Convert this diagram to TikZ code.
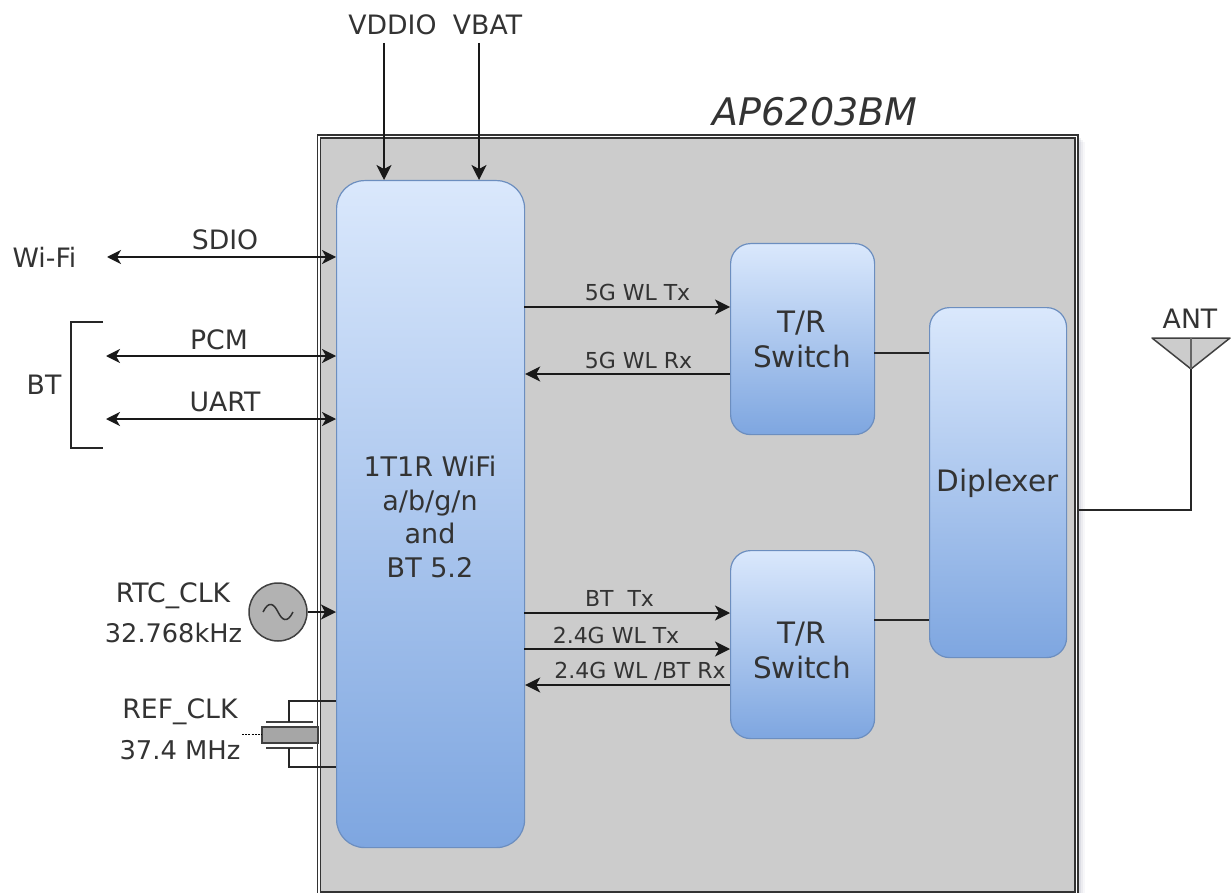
\documentclass[tikz,border=0pt]{standalone}
\usepackage{fontspec}
\setmainfont{DejaVu Sans}
\usetikzlibrary{arrows.meta,calc}
\definecolor{txt}{HTML}{333333}
\definecolor{blockTop}{HTML}{DAE8FC}
\definecolor{blockBot}{HTML}{7EA6E0}
\definecolor{blockEdge}{HTML}{6C8EBF}
\definecolor{panel}{HTML}{CCCCCC}
\definecolor{haze}{HTML}{5A6080}
\tikzset{
 x=1pt,y=-1pt,
 block/.style={draw=blockEdge,line width=1.2pt,top color=blockTop,bottom color=blockBot,rounded corners=#1,inner sep=0pt},
 blocktext/.style={text=txt,font=\fontsize{29.5}{35}\selectfont,align=center,inner sep=0pt,anchor=center},
 sizedat/.style n args={4}{minimum width={(#3-#1)*1pt},minimum height={(#4-#2)*1pt},anchor=north west},
 lab/.style={text=txt,font=\fontsize{26.7}{30}\selectfont,inner sep=0pt,anchor=center},
 small/.style={text=txt,font=\fontsize{22}{24}\selectfont,inner sep=0pt,anchor=center},
 wire/.style={draw=black!90,line width=1.4pt},
 sig/.style={wire,-{Stealth[length=15pt,width=15pt,inset=4pt]}},
 sigboth/.style={wire,{Stealth[length=14pt,width=14pt,inset=4pt]}-{Stealth[length=14pt,width=14pt,inset=4pt]}},
 link/.style={draw=black!85,line width=1.4pt},
 part/.style={draw=black!75,line width=1.5pt},
 frameline/.style={draw=black!80,line width=1.8pt,inner sep=0pt},
}
\begin{document}
\begin{tikzpicture}
\useasboundingbox (0,0) rectangle (1231,893);
\clip (0,0) rectangle (1231,893);
% soft shadow of the shell
\foreach \d/\o in {8/.05,6/.07,4/.10,2/.12}{
  \fill[haze,opacity=\o] (316.5+\d,134+\d) rectangle (1077+\d,896+\d);
}
% shell
\node[frameline,fill=white,sizedat={316.5}{134}{1077}{896}] (shellout) at (316.5,134) {};
\node[frameline,fill=panel,sizedat={319.5}{137}{1074}{891}] (shell) at (319.5,137) {};
\node[lab,font=\fontsize{38}{40}\selectfont\itshape] (title) at (815,112) {AP6203BM};
% blocks
\node[block=28pt,sizedat={336}{180}{524}{847}] (chip) at (336,180) {};
\node[lab,align=center,font=\fontsize{27}{33.5}\selectfont] (chiplabel) at (430,517) {1T1R WiFi\\a/b/g/n\\and\\BT 5.2};
\node[block=20pt,sizedat={730}{243}{874}{434}] (sw1) at (730,243) {};
\node[blocktext] (sw1label) at (802,339) {T/R\\Switch};
\node[block=20pt,sizedat={730}{550}{874}{738}] (sw2) at (730,550) {};
\node[blocktext] (sw2label) at (802,650) {T/R\\Switch};
\node[block=20pt,sizedat={929}{307}{1066}{657}] (dip) at (929,307) {};
\node[blocktext] (diplabel) at (997.5,483) {Diplexer};
% top supplies
\node[lab] (vddio) at (392.5,25) {VDDIO};
\node[lab] (vbat) at (487.5,25) {VBAT};
\coordinate (vddioS) at (384,43);
\coordinate (vbatS) at (479,43);
\draw[sig] (vddioS) -- (vddioS |- chip.north);
\draw[sig] (vbatS) -- (vbatS |- chip.north);
% left interfaces
\node[lab] (wifi) at (44.5,257) {Wi-Fi};
\coordinate (wifiE) at (107,257);
\draw[sigboth] (wifiE) -- (wifiE -| chip.west);
\node[lab] (sdiolab) at (225,240) {SDIO};
\coordinate (pcmE) at (106,356);
\coordinate (uartE) at (106,419);
\draw[sigboth] (pcmE) -- (pcmE -| chip.west);
\draw[sigboth] (uartE) -- (uartE -| chip.west);
\node[lab] (pcmlab) at (219,340) {PCM};
\node[lab] (uartlab) at (225,402) {UART};
\coordinate (bt1) at (103,322);
\coordinate (bt2) at (103,448);
\draw[link] (bt1) -- (71,322) -- (71,448) -- (bt2);
\node[lab] (btlab) at (44,385) {BT};
% RF paths
\coordinate (tx5) at (524,307);
\coordinate (rx5) at (730,374);
\draw[sig] (tx5) -- (tx5 -| sw1.west);
\draw[sig] (rx5) -- (rx5 -| chip.east);
\node[small] (tx5lab) at (637.5,292) {5G WL Tx};
\node[small] (rx5lab) at (638.5,360) {5G WL Rx};
\coordinate (btx) at (524,613);
\coordinate (wtx) at (524,649);
\coordinate (wrx) at (730,685);
\draw[sig] (btx) -- (btx -| sw2.west);
\draw[sig] (wtx) -- (wtx -| sw2.west);
\draw[sig] (wrx) -- (wrx -| chip.east);
\node[small] (btxlab) at (619.5,598) {BT\ \ Tx};
\node[small] (wtxlab) at (616,635) {2.4G WL Tx};
\node[small] (wrxlab) at (640,671) {2.4G WL /BT Rx};
\coordinate (d1) at (874,353);
\coordinate (d2) at (874,620);
\draw[link] (d1) -- (d1 -| dip.west);
\draw[link] (d2) -- (d2 -| dip.west);
% antenna
\node[lab] (antlab) at (1190,319) {ANT};
\coordinate (antL) at (1152,338);
\coordinate (antR) at (1230,338);
\coordinate (antB) at (1191,369);
\coordinate (antT) at (1191,338);
\coordinate (shellE) at (1079,510);
\draw[part,fill=panel,line join=round] (antL) -- (antR) -- (antB) -- cycle;
\draw[draw=black!60,line width=1.6pt] (antT) -- (antB);
\draw[link] (shellE) -- (antB |- shellE) -- (antB);
% RTC oscillator
\node[part,fill=black!30,circle,minimum size=58pt,inner sep=0pt] (osc) at (278,612) {};
\draw[black!80,line width=1.5pt] (263,612) .. controls (269,600) and (274,604) .. (278,612) .. controls (282,620) and (287,624) .. (293,612);
\draw[sig] (osc.east) -- (osc.east -| chip.west);
\node[lab] (rtc) at (173,596) {RTC\_CLK};
\node[lab,font=\fontsize{25.6}{30}\selectfont] (rtcf) at (173.5,633) {32.768kHz};
% crystal
\node[part,fill=black!35,minimum width=56pt,minimum height=16pt,inner sep=0pt] (xtal) at (290,735) {};
\draw[part] (266,722) -- (313,722) (266,748) -- (313,748);
\coordinate (xu) at (289,722);
\coordinate (xd) at (289,748);
\coordinate (xuE) at (336,701);
\coordinate (xdE) at (336,767);
\draw[link] (xu) -- (xu |- xuE) -- (xuE);
\draw[link] (xd) -- (xd |- xdE) -- (xdE);
\coordinate (xl) at (242,734);
\draw[draw=black,line width=1pt,dash pattern=on 2pt off 1.2pt] (xl) -- (xl -| xtal.west);
\node[lab] (ref) at (180,712) {REF\_CLK};
\node[lab,font=\fontsize{25.8}{30}\selectfont] (reff) at (180,750) {37.4 MHz};
\end{tikzpicture}
\end{document}
